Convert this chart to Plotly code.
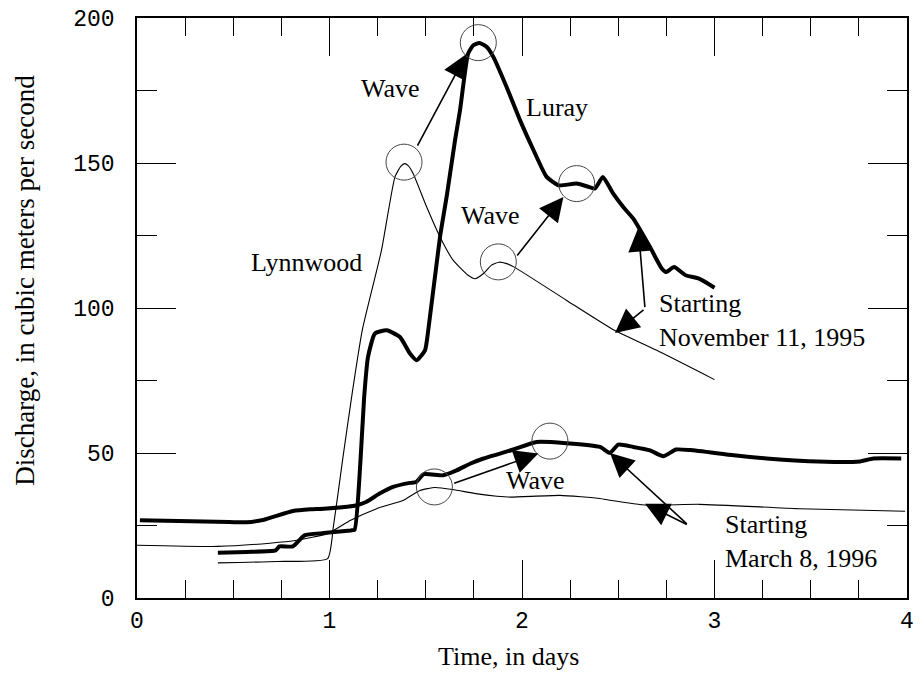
import plotly.graph_objects as go

# ---------------- data ----------------
# Lynnwood, starting November 11, 1995 (thin)
lyn_nov_t = [0.42, 0.73, 0.99, 1.02, 1.07, 1.12, 1.17, 1.27, 1.34, 1.37, 1.39, 1.41, 1.435,
             1.505, 1.574, 1.643, 1.72, 1.756, 1.80, 1.84, 1.88, 1.92, 1.96, 2.23, 2.48, 2.70, 3.0]
lyn_nov_q = [12.1, 12.6, 13.6, 24.5, 48.6, 71.6, 92.3, 119.9, 145.2, 148.8, 149.8, 149.0, 146.3,
             134.8, 124.5, 116.4, 111.3, 110.1, 111.9, 114.7, 115.8, 115.3, 114.1, 102.7, 92.3, 85.4, 75.3]

# Luray, starting November 11, 1995 (thick)
lur_nov_t = [0.42, 0.57, 0.72, 0.74, 0.81, 0.87, 0.97, 1.11, 1.13, 1.16, 1.18, 1.20, 1.236,
             1.297, 1.366, 1.418, 1.453, 1.496, 1.513, 1.574, 1.61, 1.652, 1.678, 1.72, 1.747,
             1.778, 1.817, 1.851, 1.92, 1.99, 2.06, 2.128, 2.19, 2.283, 2.336, 2.379, 2.42,
             2.474, 2.526, 2.578, 2.665, 2.726, 2.748, 2.79, 2.85, 2.92, 3.0]
lur_nov_q = [15.6, 15.9, 16.4, 17.8, 17.8, 21.6, 22.4, 23.3, 23.5, 46.3, 69.3, 83.1, 91.2,
             92.3, 90.0, 84.3, 82.0, 85.4, 92.3, 124.5, 139.0, 157.8, 168.2, 187.7, 190.6,
             191.4, 190.0, 186.6, 176.2, 164.7, 154.4, 145.2, 142.3, 142.9, 142.0, 141.2, 145.2,
             139.4, 134.8, 130.8, 121.0, 113.6, 112.4, 114.1, 111.3, 110.1, 107.0]

# Luray, starting March 8, 1996 (thick)
lur_mar_t = [0.015, 0.48, 0.57, 0.66, 0.81, 0.9, 0.97, 1.13, 1.19, 1.26, 1.33, 1.418, 1.45,
             1.49, 1.59, 1.66, 1.73, 1.80, 1.955, 2.076, 2.23, 2.405, 2.457, 2.50, 2.578,
             2.665, 2.734, 2.80, 2.873, 3.10, 3.27, 3.44, 3.62, 3.756, 3.825, 3.97]
lur_mar_q = [26.8, 26.2, 26.1, 27.0, 30.0, 30.6, 30.8, 31.8, 33.1, 36.0, 38.3, 39.7, 40.0,
             42.7, 42.3, 44.0, 46.3, 48.1, 51.2, 53.8, 53.4, 52.1, 50.0, 52.9, 52.1,
             50.9, 48.9, 51.2, 51.0, 49.2, 48.1, 47.3, 46.9, 47.1, 48.1, 48.1]

# Lynnwood, starting March 8, 1996 (thin)
lyn_mar_t = [0.0, 0.42, 0.69, 0.83, 0.99, 1.11, 1.245, 1.384, 1.47, 1.548, 1.64, 1.76, 1.87,
             1.94, 2.197, 2.405, 2.457, 2.65, 2.92, 3.44, 3.99]
lyn_mar_q = [18.2, 17.8, 18.9, 19.9, 22.2, 26.8, 30.8, 33.7, 37.1, 38.1, 37.4, 36.0, 35.1,
             34.8, 35.4, 34.3, 33.7, 32.0, 32.3, 30.8, 29.9]

# wave circles (centres)
circle_t = [1.387, 1.773, 1.877, 2.284, 1.545, 2.145]
circle_q = [150.3, 191.5, 115.9, 142.9, 38.3, 54.1]

# arrows: (tip_t, tip_q, tail_t, tail_q)
arrows = [
    (1.710, 187.5, 1.453, 155.5),
    (2.215, 138.3, 1.969, 117.6),
    (2.085, 49.8, 1.640, 39.4),
    (2.604, 127.7, 2.639, 99.8),
    (2.483, 91.4, 2.639, 99.8),
    (2.457, 50.0, 2.864, 25.1),
    (2.639, 32.5, 2.864, 25.1),
]

# text labels: (text, t, q, xanchor)
labels = [
    ("Wave", 1.319, 175.8, "center"),
    ("Wave", 1.834, 132.0, "center"),
    ("Wave", 2.068, 40.6, "center"),
    ("Luray", 2.182, 169.2, "center"),
    ("Lynnwood", 0.878, 115.7, "center"),
    ("Starting<br>November 11, 1995", 2.701, 95.8, "left"),
    ("Starting<br>March 8, 1996", 3.044, 19.6, "left"),
]

x_ticks = [0, 1, 2, 3, 4]
y_ticks = [0, 50, 100, 150, 200]

# ---------------- figure ----------------
SERIF = "Liberation Serif, Times New Roman, serif"
MONO = "Liberation Mono, Courier New, monospace"

fig = go.Figure()
thin = dict(color="black", width=1.1, shape="spline", smoothing=0.5)
thick = dict(color="black", width=4, shape="spline", smoothing=0.5)
fig.add_trace(go.Scatter(x=lyn_nov_t, y=lyn_nov_q, mode="lines", line=thin, name="Lynnwood Nov"))
fig.add_trace(go.Scatter(x=lyn_mar_t, y=lyn_mar_q, mode="lines", line=thin, name="Lynnwood Mar"))
fig.add_trace(go.Scatter(x=lur_nov_t, y=lur_nov_q, mode="lines", line=thick, name="Luray Nov"))
fig.add_trace(go.Scatter(x=lur_mar_t, y=lur_mar_q, mode="lines", line=thick, name="Luray Mar"))
fig.add_trace(go.Scatter(x=circle_t, y=circle_q, mode="markers",
                         marker=dict(symbol="circle-open", size=36,
                                     line=dict(color="#444444", width=1), color="#444444"),
                         name="Wave"))

anns = []
for tx, tq, ax, aq in arrows:
    anns.append(dict(x=tx, y=tq, ax=ax, ay=aq, xref="x", yref="y", axref="x", ayref="y",
                     text="", showarrow=True, arrowhead=2, arrowsize=3.0, arrowwidth=1.6,
                     arrowcolor="black", standoff=0, startstandoff=0))
for txt, t, q, xa in labels:
    anns.append(dict(x=t, y=q, xref="x", yref="y", text=txt, showarrow=False,
                     xanchor=xa, yanchor="middle", align="left",
                     font=dict(family=SERIF, size=26, color="black")))
anns.append(dict(x=(508 - 137) / 770, y=(597.7 - 656) / 579.7, xref="paper", yref="paper",
                 text="Time, in days", showarrow=False, xanchor="center", yanchor="middle",
                 font=dict(family=SERIF, size=26, color="black")))
anns.append(dict(x=(25 - 137) / 770, y=(597.7 - 280.5) / 579.7, xref="paper", yref="paper",
                 text="Discharge, in cubic meters per second", textangle=-90, showarrow=False,
                 xanchor="center", yanchor="middle",
                 font=dict(family=SERIF, size=27, color="black")))

axis_common = dict(showline=True, linecolor="black", linewidth=1.5, mirror="ticks",
                   ticks="inside", tickcolor="black", tickwidth=1.2, showgrid=False,
                   zeroline=False, automargin=False,
                   tickfont=dict(family=MONO, size=23, color="black"))

fig.update_xaxes(range=[0, 4], tickvals=x_ticks, ticktext=[str(v) for v in x_ticks],
                 ticklen=38, ticklabelstandoff=1,
                 minor=dict(dtick=0.25, ticks="inside", ticklen=18, tickcolor="black", tickwidth=1.2),
                 **axis_common)
fig.update_yaxes(range=[0, 200], tickvals=y_ticks, ticktext=[str(v) for v in y_ticks],
                 ticklen=39, ticklabelstandoff=16,
                 minor=dict(dtick=25, ticks="inside", ticklen=20, tickcolor="black", tickwidth=1.2),
                 **axis_common)

fig.update_layout(width=924, height=673, margin=dict(l=137, r=17, t=18, b=75),
                  paper_bgcolor="white", plot_bgcolor="white", showlegend=False,
                  annotations=anns)

fig.write_html("out.html")
